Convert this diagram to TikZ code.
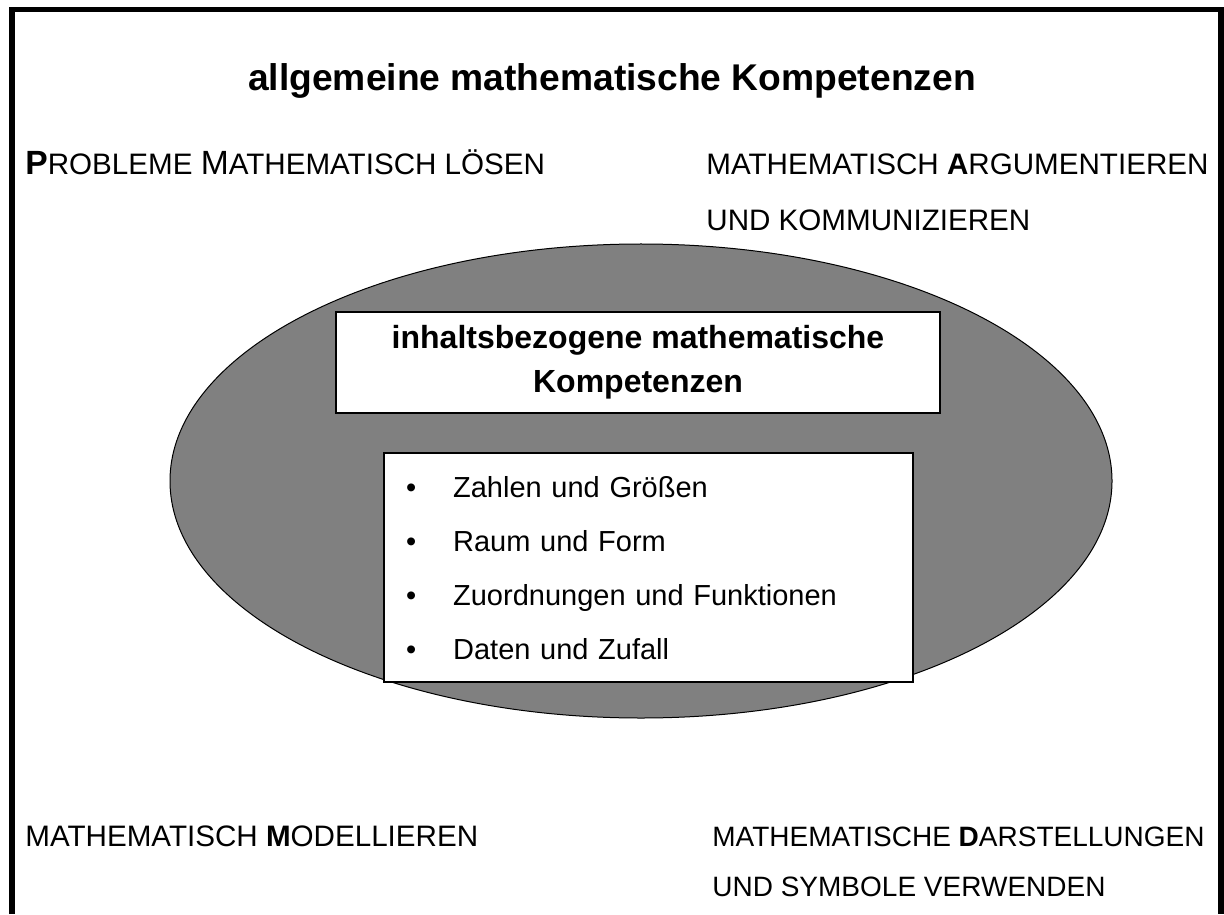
\documentclass[tikz,border=0pt]{standalone}
\usepackage{fontspec}
\setmainfont{Liberation Sans}
\usetikzlibrary{shapes.geometric}
\newcommand{\Ini}[1]{{\fontsize{16.8}{17}\selectfont #1}}
\begin{document}
\begin{tikzpicture}[
  x=0.5pt, y=-0.5pt,
  frame/.style={line width=2.75pt},
  oval/.style={draw, ellipse, fill=black!50, line width=0.5pt, inner sep=0pt},
  box/.style={draw, fill=white, line width=1pt},
  caps/.style={anchor=base west, inner sep=0pt, align=left,
    font=\fontsize{14.8}{28}\selectfont}
]
\useasboundingbox (0,0) rectangle (1224,914);
\draw[frame] (12,914) |- (1221,9.5) -- (1221,914);

\node[font=\bfseries\fontsize{18.6}{20}\selectfont] (title) at (612,81)
  {allgemeine mathematische Kompetenzen};

% corner texts, anchored on their last line
\node[caps] (probleme) at (25,175)
  {\Ini{\textbf{P}}ROBLEME \Ini{M}ATHEMATISCH LÖSEN};
\node[caps] (argument) at (706,231)
  {MATHEMATISCH \textbf{A}RGUMENTIEREN\\UND KOMMUNIZIEREN};
\node[caps] (modell) at (25,846)
  {MATHEMATISCH \textbf{M}ODELLIEREN};
\node[caps, font=\fontsize{14}{25}\selectfont] (darstell) at (712,896)
  {MATHEMATISCHE \textbf{D}ARSTELLUNGEN\\UND SYMBOLE VERWENDEN};

\node[oval, minimum width=471pt, minimum height=237pt] (oval) at (641,481) {};

\node[box, minimum width=302pt, minimum height=50.5pt, align=center,
  font=\bfseries\fontsize{16}{22}\selectfont] (inhalt) at (638,362.5)
  {inhaltsbezogene mathematische\\Kompetenzen};

\node[box, minimum height=112.5pt, text width=242.5pt, inner xsep=11pt,
  align=left, font=\fontsize{14.5}{17.4}\selectfont] (liste) at (648.5,567.5)
  {\renewcommand{\arraystretch}{1.55}%
   \begin{tabular}{@{}l@{\hspace{18.5pt}}l@{}}
   \textbullet & Zahlen und Größen\\
   \textbullet & Raum und Form\\
   \textbullet & Zuordnungen und Funktionen\\
   \textbullet & Daten und Zufall
   \end{tabular}};
\end{tikzpicture}
\end{document}
